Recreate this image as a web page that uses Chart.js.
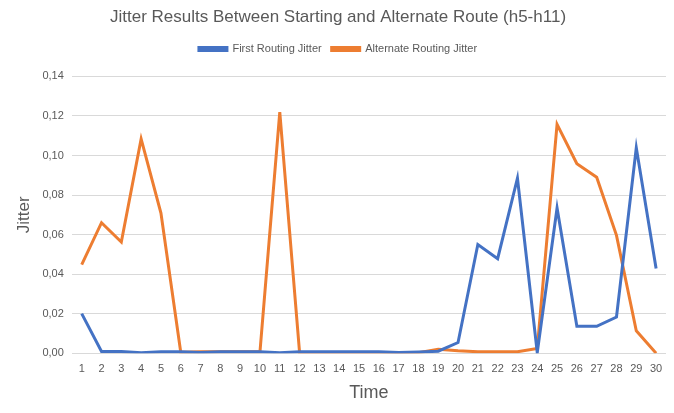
<!DOCTYPE html>
<html>
<head>
<meta charset="utf-8">
<script src="https://cdn.jsdelivr.net/npm/chart.js@4/dist/chart.umd.min.js"></script>
<style>
  html, body { margin: 0; padding: 0; background: #fff; }
  #wrap { width: 674px; height: 413px; }
</style>
</head>
<body>
<div id="wrap"><canvas id="jitterChart"></canvas></div>
<script>
// time steps 1..30
const timeLabels = ['1','2','3','4','5','6','7','8','9','10','11','12','13','14','15',
    '16','17','18','19','20','21','22','23','24','25','26','27','28','29','30'];

// First Routing Jitter (blue)
const firstJitter = [0.0200, 0.0009, 0.0009, 0.0002, 0.0007, 0.0007, 0.0003, 0.0007, 0.0007, 0.0007,
    0.0002, 0.0007, 0.0007, 0.0007, 0.0007, 0.0007, 0.0003, 0.0006, 0.0010, 0.0054,
    0.0550, 0.0478, 0.0885, 0.0003, 0.0734, 0.0136, 0.0136, 0.0183, 0.1039, 0.0428];

// Alternate Routing Jitter (orange)
const altJitter = [0.0448, 0.0660, 0.0562, 0.1084, 0.0709, 0.0005, 0.0007, 0.0007, 0.0007, 0.0007,
    0.1219, 0.0003, 0.0003, 0.0003, 0.0003, 0.0003, 0.0003, 0.0003, 0.0020, 0.0012,
    0.0007, 0.0007, 0.0007, 0.0024, 0.1157, 0.0958, 0.0890, 0.0596, 0.0113, 0.0000];

const textGrey = '#595959';
const baseFont = "'Liberation Sans', sans-serif";

// push the plot down a bit below the legend
const legendSpacer = {
    id: 'legendSpacer',
    beforeInit(chart) {
        const origFit = chart.legend.fit;
        chart.legend.fit = function () {
            origFit.bind(chart.legend)();
            this.height += 12;
        };
    }
};

new Chart(document.getElementById('jitterChart').getContext('2d'), {
    type: 'line',
    data: {
        labels: timeLabels,
        datasets: [{
            label: 'First Routing Jitter',
            data: firstJitter,
            borderColor: '#4472C4',
            backgroundColor: '#4472C4',
            borderWidth: 3,
            pointRadius: 0,
            tension: 0
        }, {
            label: 'Alternate Routing Jitter',
            data: altJitter,
            borderColor: '#ED7D31',
            backgroundColor: '#ED7D31',
            borderWidth: 3,
            pointRadius: 0,
            tension: 0
        }]
    },
    plugins: [legendSpacer],
    options: {
        responsive: true,
        maintainAspectRatio: false,
        animation: false,
        layout: { padding: { left: 10, right: 8, top: 7, bottom: 5 } },
        plugins: {
            title: {
                display: true,
                text: 'Jitter Results Between Starting and Alternate Route (h5-h11)',
                color: textGrey,
                font: { family: baseFont, size: 17, weight: 'normal' },
                padding: { top: 0, bottom: 6 }
            },
            legend: {
                position: 'top',
                labels: {
                    color: textGrey,
                    font: { family: baseFont, size: 11 },
                    boxWidth: 28,
                    boxHeight: 3,
                    padding: 10
                }
            },
            tooltip: { enabled: false }
        },
        scales: {
            x: {
                offset: true,
                grid: { display: false, drawTicks: false },
                border: { display: false },
                ticks: { color: textGrey, font: { family: baseFont, size: 11 }, padding: 9, maxRotation: 0, autoSkip: false },
                title: {
                    display: true,
                    text: 'Time',
                    color: textGrey,
                    font: { family: baseFont, size: 18 },
                    padding: { top: -2, bottom: 4 }
                }
            },
            y: {
                min: 0,
                max: 0.14,
                grid: { color: '#d9d9d9', drawTicks: false },
                border: { display: false },
                ticks: {
                    stepSize: 0.02,
                    color: textGrey,
                    font: { family: baseFont, size: 11 },
                    padding: 8,
                    callback: value => value.toFixed(2).replace('.', ',')
                },
                title: {
                    display: true,
                    text: 'Jitter',
                    color: textGrey,
                    font: { family: baseFont, size: 17 },
                    padding: { top: 4, bottom: 0 }
                }
            }
        }
    }
});
</script>
</body>
</html>
